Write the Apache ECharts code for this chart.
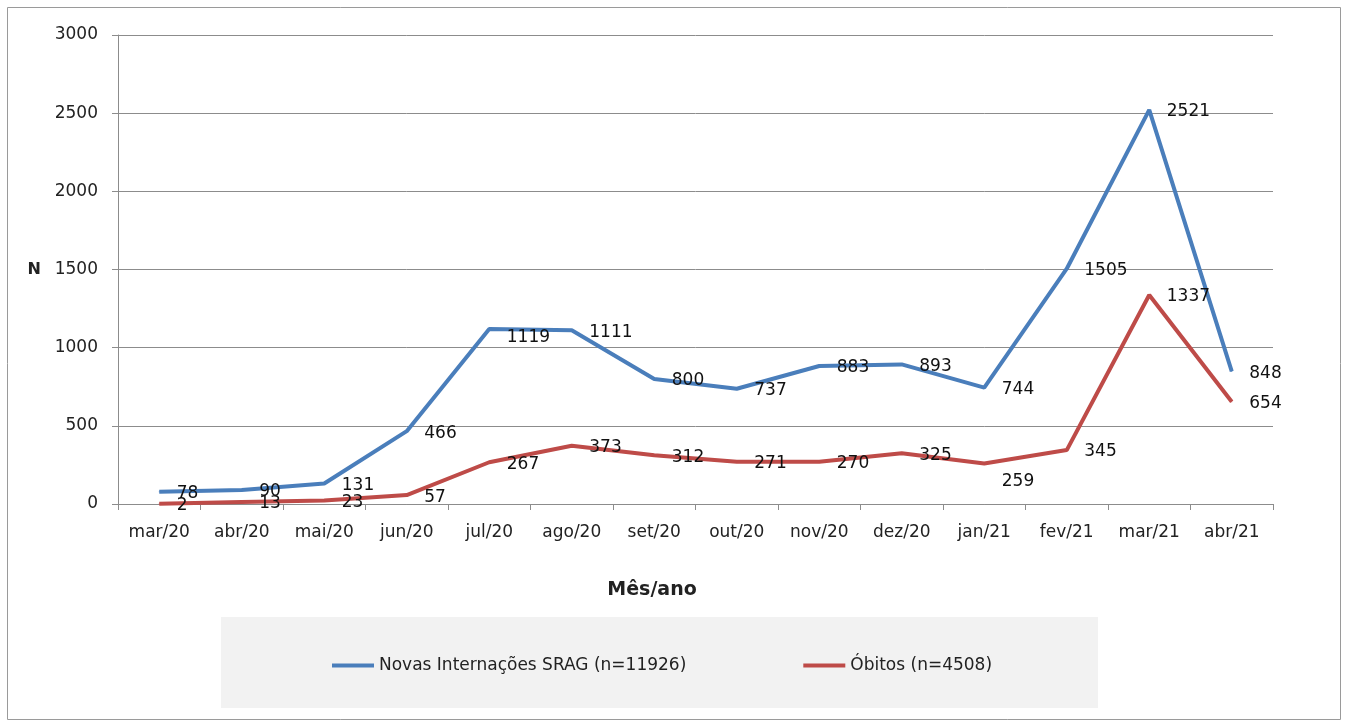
<!DOCTYPE html>
<html>
<head>
<meta charset="utf-8">
<script src="https://cdn.jsdelivr.net/npm/echarts@6/dist/echarts.min.js"></script>
<style>
html,body{margin:0;padding:0;background:#fff;}
#main{width:1348px;height:723px;}
</style>
</head>
<body>
<div id="main"></div>
<script>
// meses
var meses = ['mar/20','abr/20','mai/20','jun/20','jul/20','ago/20','set/20','out/20','nov/20','dez/20','jan/21','fev/21','mar/21','abr/21'];
// novas internações SRAG
var internacoes = [78,90,131,466,1119,1111,800,737,883,893,744,1505,2521,848];
// óbitos
var obitos = [2,13,23,57,267,373,312,271,270,325,259,345,1337,654];

var fonte = 'DejaVu Sans';
var cinza = '#8c8c8c';

// alguns rótulos foram deslocados para baixo no original
var internacoesData = internacoes.map(function(v,i){
	if(i==4){
		return {value:v,label:{offset:[0,9]}};
	}
	return v;
});
var obitosData = obitos.map(function(v,i){
	if(i==10){
		return {value:v,label:{offset:[0,18]}};
	}
	return v;
});

var chart = echarts.init(document.getElementById('main'));
chart.setOption({
	animation:false,
	backgroundColor:'#fff',
	graphic:[
		{type:'rect',shape:{x:7.5,y:7.5,width:1333,height:712},style:{fill:'none',stroke:'#9a9a9a',lineWidth:1}},
		{type:'rect',shape:{x:221,y:617,width:877,height:91},style:{fill:'#f2f2f2'},z:-1},
		{type:'text',x:652,y:590,style:{text:'Mês/ano',fontFamily:fonte,fontSize:19,fontWeight:'bold',fill:'#222',textAlign:'center',textVerticalAlign:'middle'}}
	],
	grid:{left:118,right:75,top:35,bottom:219},
	legend:{
		left:327,
		top:652,
		itemWidth:42,
		itemHeight:4,
		itemGap:117,
		icon:'rect',
		textStyle:{fontFamily:fonte,fontSize:17,color:'#222'},
		data:['Novas Internações SRAG (n=11926)','Óbitos (n=4508)']
	},
	xAxis:{
		type:'category',
		data:meses,
		boundaryGap:true,
		axisLine:{lineStyle:{color:cinza,width:1}},
		axisTick:{show:true,length:6,alignWithLabel:false,lineStyle:{color:cinza}},
		axisLabel:{fontFamily:fonte,fontSize:17,color:'#222',margin:20,interval:0}
	},
	yAxis:{
		type:'value',
		min:0,
		max:3000,
		interval:500,
		name:'N',
		nameLocation:'middle',
		nameRotate:0,
		nameGap:77,
		nameTextStyle:{fontFamily:fonte,fontSize:16,fontWeight:'bold',color:'#222'},
		axisLine:{show:true,lineStyle:{color:cinza,width:1}},
		axisTick:{show:true,length:6,lineStyle:{color:cinza}},
		axisLabel:{fontFamily:fonte,fontSize:17,color:'#222',margin:20,formatter:function(v){return String(v);}},
		splitLine:{lineStyle:{color:cinza,width:1}}
	},
	series:[
		{
			name:'Novas Internações SRAG (n=11926)',
			type:'line',
			data:internacoesData,
			symbol:'circle',
			symbolSize:1,
			lineStyle:{width:4,color:'#4a7ebb'},
			itemStyle:{color:'#4a7ebb'},
			label:{show:true,position:'right',distance:17,offset:[0,2],fontFamily:fonte,fontSize:17,color:'#111'}
		},
		{
			name:'Óbitos (n=4508)',
			type:'line',
			data:obitosData,
			symbol:'circle',
			symbolSize:1,
			lineStyle:{width:4,color:'#be4b48'},
			itemStyle:{color:'#be4b48'},
			label:{show:true,position:'right',distance:17,offset:[0,2],fontFamily:fonte,fontSize:17,color:'#111'}
		}
	]
});
</script>
</body>
</html>
